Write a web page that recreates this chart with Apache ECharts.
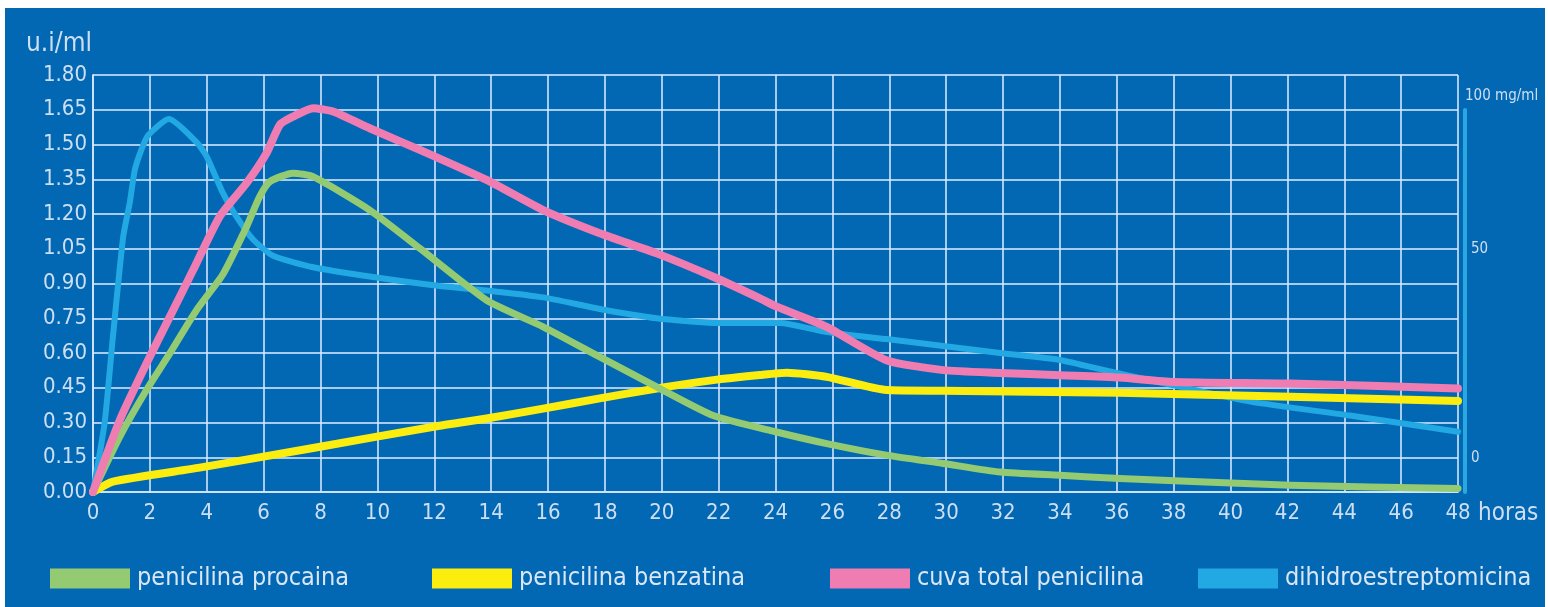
<!DOCTYPE html>
<html>
<head>
<meta charset="utf-8">
<script src="https://cdn.jsdelivr.net/npm/echarts@6/dist/echarts.min.js"></script>
<style>
  html, body { margin: 0; padding: 0; background: #ffffff; }
  #bg { position: absolute; left: 5px; top: 8px; width: 1540px; height: 599px; background: #0268b3; }
  #main { position: absolute; left: 0; top: 0; width: 1548px; height: 607px; }
</style>
</head>
<body>
<div id="bg"></div>
<div id="main"></div>
<script>
// hours, u.i/ml
var procaina = [[0,0],[0.94,0.238],[1.88,0.44],[2.7,0.598],[3.64,0.785],[4.57,0.94],[5.4,1.145],[5.86,1.275],[6.22,1.34],[7.03,1.376],[7.74,1.361],[9.73,1.217],[11.49,1.052],[13.84,0.828],[15.83,0.713],[17.82,0.583],[19.82,0.454],[21.81,0.33],[24,0.26],[25.8,0.209],[27.9,0.159],[29.9,0.123],[31.9,0.086],[34,0.072],[36.1,0.058],[42.1,0.029],[48,0.015]];
var benzatina = [[0,0],[0.7,0.045],[3.75,0.105],[7.74,0.19],[12.13,0.285],[13.84,0.317],[15.83,0.36],[17.82,0.404],[19.82,0.447],[21.81,0.483],[23.45,0.505],[24.4,0.515],[25.8,0.497],[27.9,0.44],[29.9,0.437],[36.1,0.428],[42.1,0.411],[48,0.393]];
var totalPen = [[0,0],[0.94,0.31],[1.88,0.555],[2.7,0.756],[3.52,0.958],[4.46,1.19],[5.4,1.333],[6.1,1.462],[6.57,1.585],[7.03,1.62],[7.74,1.657],[8.44,1.642],[9.73,1.57],[11.49,1.477],[13.84,1.347],[15.83,1.217],[17.82,1.117],[19.82,1.03],[21.81,0.929],[23.45,0.836],[24.04,0.8],[25.8,0.713],[27.9,0.569],[29.9,0.526],[31.9,0.514],[34,0.504],[36.1,0.494],[38,0.475],[42.1,0.468],[48,0.447]];
var dihidro = [[0,0],[0.41,0.3],[0.7,0.67],[1.06,1.1],[1.29,1.246],[1.47,1.39],[1.7,1.477],[1.94,1.54],[2.67,1.61],[3.64,1.51],[3.99,1.45],[4.57,1.29],[5.04,1.19],[5.63,1.09],[6.33,1.02],[7.74,0.97],[9.73,0.93],[12.13,0.89],[13.84,0.87],[15.83,0.84],[17.82,0.79],[19.82,0.75],[21.81,0.73],[24.15,0.73],[25.8,0.69],[27.9,0.66],[29.9,0.63],[31.9,0.6],[34,0.57],[35.76,0.52],[38,0.46],[40.7,0.39],[44.2,0.33],[48,0.26]];

var names = ['penicilina procaina', 'penicilina benzatina', 'cuva total penicilina', 'dihidroestreptomicina'];
var colors = ['#93ca72', '#fbee0f', '#ef7db2', '#22a9e3'];
var legendLeft = [50, 432, 830, 1198];
var rightTicks = [0, 50];

var font = '"Liberation Sans Narrow", "DejaVu Sans Condensed", "Liberation Sans", sans-serif';
var txt = '#cfdff3';
var gridLine = 'rgba(215,232,255,0.78)';

var chart = echarts.init(document.getElementById('main'));

var legends = names.map(function (n, i) {
  return {
    data: [n],
    left: legendLeft[i],
    top: 566,
    padding: 0,
    icon: 'rect',
    itemWidth: 80,
    itemHeight: 20,
    itemGap: 0,
    selectedMode: false,
    textStyle: { color: '#dbe6f6', fontSize: 25, fontFamily: font, padding: [0, 0, 0, 2] }
  };
});

function line(i, data, w, z) {
  return {
    name: names[i],
    type: 'line',
    data: data,
    symbol: 'none',
    smooth: 0.2,
    z: z,
    lineStyle: { color: colors[i], width: w, cap: 'round', join: 'round' },
    itemStyle: { color: colors[i] }
  };
}

chart.setOption({
  animation: false,
  backgroundColor: 'transparent',
  title: {
    text: 'u.i/ml',
    left: 21,
    top: 26,
    textStyle: { color: txt, fontSize: 26, fontWeight: 'normal', fontFamily: font }
  },
  legend: legends,
  grid: [
    { left: 93, right: 90, top: 75, bottom: 115 },
    // second grid only carries the right-hand mg/ml axis, which starts lower
    { left: 93, right: 90, top: 110, bottom: 115 }
  ],
  xAxis: [{
    type: 'value',
    min: 0,
    max: 48,
    interval: 2,
    name: 'horas',
    nameLocation: 'end',
    nameGap: 20,
    nameTextStyle: { color: txt, fontSize: 24, fontFamily: font, verticalAlign: 'top', padding: [10, 0, 0, 0] },
    axisLine: { lineStyle: { color: gridLine, width: 2 } },
    axisTick: { show: false },
    axisLabel: { color: txt, fontSize: 22, fontFamily: font, margin: 10 },
    splitLine: { show: true, lineStyle: { color: gridLine, width: 2 } }
  }, {
    gridIndex: 1,
    type: 'value',
    min: 0,
    max: 48,
    show: false
  }],
  yAxis: [{
    type: 'value',
    min: 0,
    max: 1.8,
    interval: 0.15,
    axisLine: { show: true, lineStyle: { color: gridLine, width: 2 } },
    axisTick: { show: false },
    axisLabel: {
      color: txt, fontSize: 22, fontFamily: font, margin: 6,
      formatter: function (v) { return v.toFixed(2); }
    },
    splitLine: { show: true, lineStyle: { color: gridLine, width: 2 } }
  }, {
    gridIndex: 1,
    type: 'value',
    position: 'right',
    min: -8.06,
    max: 83.25,
    offset: 7,
    name: '100 mg/ml',
    nameLocation: 'end',
    nameGap: 6,
    nameTextStyle: { color: txt, fontSize: 15, fontFamily: font, align: 'left' },
    axisLine: { show: true, onZero: false, lineStyle: { color: '#2aa8e2', width: 4 } },
    axisTick: { show: false },
    axisLabel: { color: txt, fontSize: 15, fontFamily: font, margin: 6, customValues: rightTicks },
    splitLine: { show: false }
  }],
  series: [
    line(3, dihidro, 6, 1),
    line(1, benzatina, 8, 2),
    line(0, procaina, 7, 3),
    line(2, totalPen, 8, 4)
  ]
});
</script>
</body>
</html>
